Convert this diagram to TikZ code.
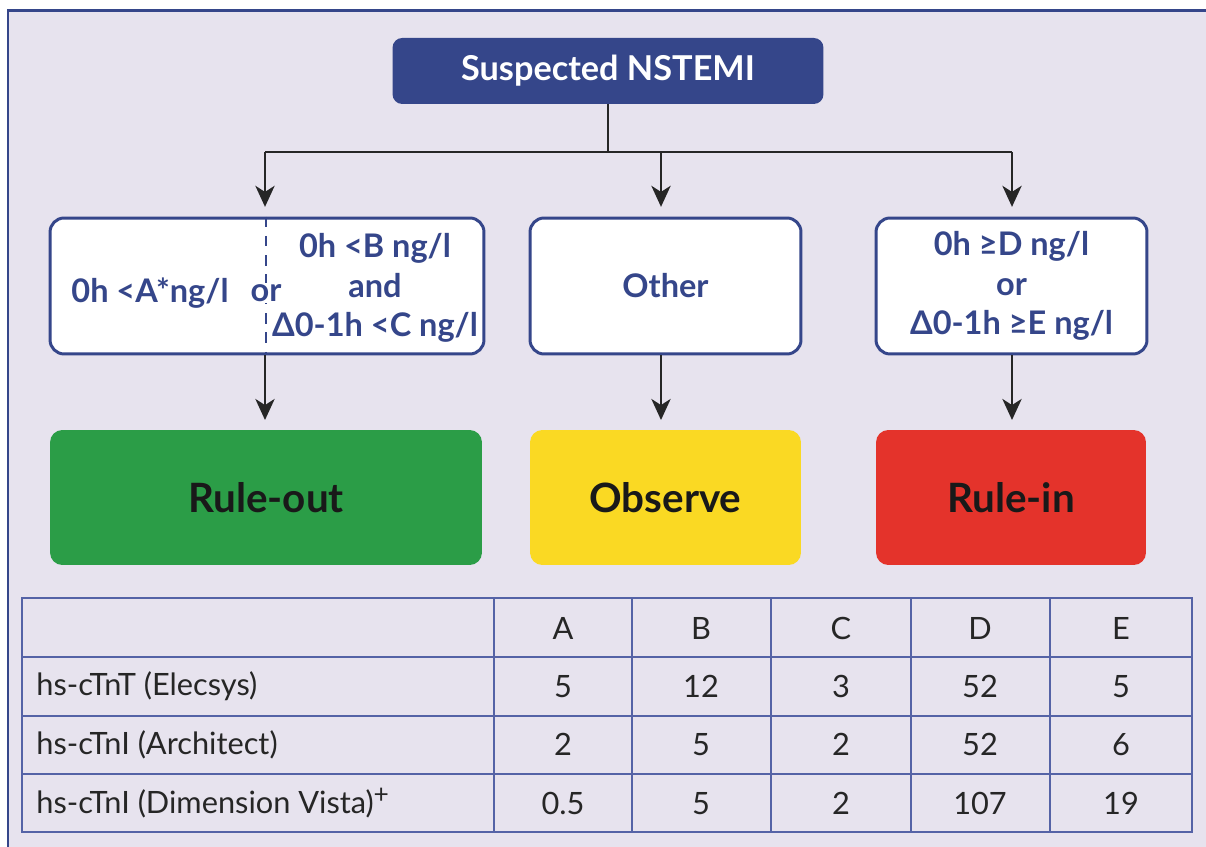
\documentclass[tikz,border=0pt]{standalone}
\usepackage{fontspec}
\setmainfont{Lato}
\usepackage{tikz}
\usetikzlibrary{positioning,calc,arrows.meta}
\definecolor{panel}{HTML}{E7E3EE}
\definecolor{navy}{HTML}{35468A}
\definecolor{gridblue}{HTML}{5563A6}
\definecolor{outgreen}{HTML}{2B9D47}
\definecolor{obsyellow}{HTML}{FAD923}
\definecolor{inred}{HTML}{E4332B}
\newcommand*{\crit}{\fontsize{18.5}{22.5}\selectfont\bfseries}
\newcommand*{\verdict}{\fontsize{23}{27}\selectfont\bfseries}
\newcommand*{\cell}{\fontsize{17.5}{20}\selectfont}
\newcommand*{\plusmark}{\raisebox{0.6ex}{\fontsize{15}{15}\selectfont +}}

\begin{document}
\begin{tikzpicture}[x=0.02cm,y=-0.02cm,
  critbox/.style={draw=navy,line width=1.7pt,fill=white,rounded corners=8pt,
                  minimum height=2.72cm,inner sep=0pt},
  crittext/.style={text=navy,align=center,font=\crit,inner sep=1pt},
  verdictbox/.style={rounded corners=7pt,minimum height=2.7cm,inner sep=0pt,
                     text=black!90,font=\verdict},
  arr/.style={-{Stealth[length=12pt,width=11pt,inset=3.5pt]},line width=1.1pt,
              draw=black!85,shorten >=5.5pt},
  link/.style={line width=1.1pt,draw=black!85},
  grid/.style={draw=gridblue,line width=1.1pt},
  celltext/.style={font=\cell,text=black!85,inner sep=0pt}]
% Page is the panel, framed on top and left only
\useasboundingbox (0,0) rectangle (1206,847);
\fill[panel] (8,11) rectangle (1206,847);
\draw[navy,line width=1.7pt] (8,847) -- (8,11) -- (1206,11);
% Start box
\node[fill=navy,rounded corners=5.5pt,minimum width=8.62cm,minimum height=1.32cm,
      text=white,font=\fontsize{19.5}{23}\selectfont\bfseries] (start) at (608,71)
      {Suspected NSTEMI};
% Criteria boxes
\node[critbox,minimum width=8.68cm] (lowcrit) at (267,286) {};
\node[critbox,minimum width=5.42cm] (midcrit) at (665.5,286) {};
\node[critbox,minimum width=5.42cm] (highcrit) at (1011.5,286) {};
% Split of the rule-out box
\draw[navy,line width=1pt,dash pattern=on 6pt off 5pt]
  (lowcrit.north -| 266,0) -- (lowcrit.south -| 266,0);
\node[crittext] (lowA) at (150,293) {0h <A*ng/l};
\node[crittext,fill=white] (lowor) at (266,293) {or};
\node[crittext] (lowBC) at (375,288) {0h <B ng/l\\and\\Δ0-1h <C ng/l};
\node[crittext] (other) at (midcrit) {Other};
\node[crittext] (highDE) at (highcrit) {0h ≥D ng/l\\or\\Δ0-1h ≥E ng/l};
% Verdict boxes
\node[verdictbox,fill=outgreen,minimum width=8.64cm] (ruleout) at (266,497.5) {Rule-out};
\node[verdictbox,fill=obsyellow,minimum width=5.42cm] (observe) at (665.5,497.5) {Observe};
\node[verdictbox,fill=inred,minimum width=5.4cm] (rulein) at (1011,497.5) {Rule-in};
% Branching from the start box
\coordinate (busL) at (265,152);
\coordinate (busM) at (661,152);
\coordinate (busR) at (1012,152);
\draw[link] (start.south) -- (start.south |- busM);
\draw[link] (busL) -- (busR);
\draw[arr] (busL) -- (busL |- lowcrit.north);
\draw[arr] (busM) -- (busM |- midcrit.north);
\draw[arr] (busR) -- (busR |- highcrit.north);
% Criteria to verdicts
\draw[arr] (busL |- lowcrit.south) -- (busL |- ruleout.north);
\draw[arr] (busM |- midcrit.south) -- (busM |- observe.north);
\draw[arr] (busR |- highcrit.south) -- (busR |- rulein.north);
% Cut-off table
\draw[grid] (22,598) rectangle (1192,832);
\foreach \y in {657,716,774} \draw[grid] (22,\y) -- (1192,\y);
\foreach \x in {494,632,771,911,1050} \draw[grid] (\x,598) -- (\x,832);
\foreach \h/\cx in {A/563,B/701,C/841,D/980,E/1121}
  \node[celltext] (head\h) at (\cx,628) {\h};
\foreach \assay/\va/\vb/\vc/\vd/\ve [count=\r,evaluate=\r as \ry using 628+58.4*\r] in
  {{hs-cTnT (Elecsys)}/5/12/3/52/5,
   {hs-cTnI (Architect)}/2/5/2/52/6,
   {hs-cTnI (Dimension Vista)\plusmark}/0.5/5/2/107/19}
{
  \node[celltext,anchor=west] (assay\r) at (36,\ry) {\assay};
  \node[celltext] (cellA\r) at (563,\ry) {\va};
  \node[celltext] (cellB\r) at (701,\ry) {\vb};
  \node[celltext] (cellC\r) at (841,\ry) {\vc};
  \node[celltext] (cellD\r) at (980,\ry) {\vd};
  \node[celltext] (cellE\r) at (1121,\ry) {\ve};
}
\end{tikzpicture}
\end{document}
